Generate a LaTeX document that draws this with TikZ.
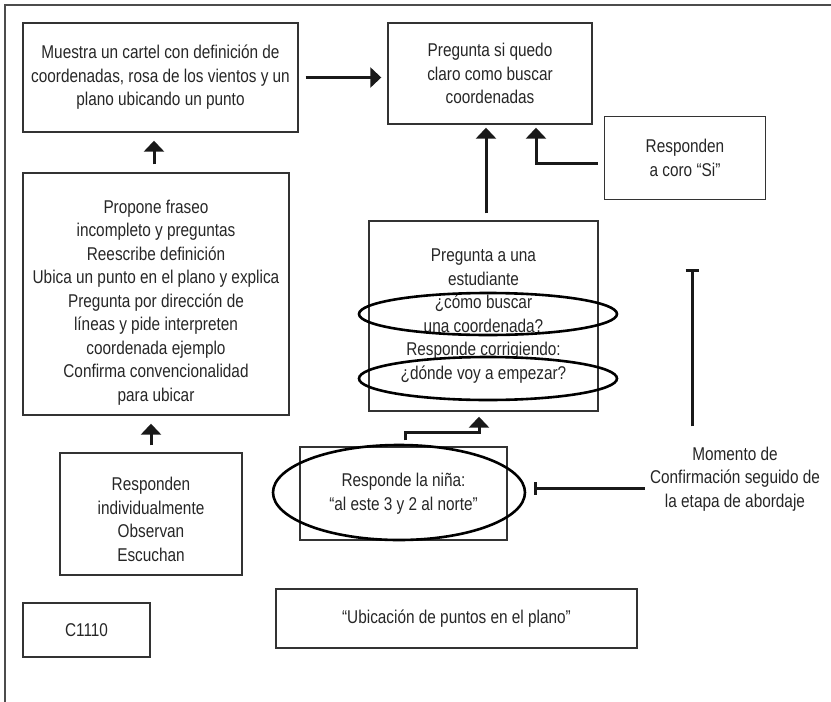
\documentclass[tikz,border=0pt]{standalone}
\usepackage{fontspec}
\setmainfont{Liberation Sans}[FakeStretch=0.83]
\usetikzlibrary{positioning,arrows.meta,shapes.geometric,calc}

\begin{document}
\begin{tikzpicture}[
    x=1pt, y=-1pt,
    font=\fontsize{18.5}{23.5}\selectfont, text=black!85,
    box/.style={draw=black!80, line width=1.4pt, align=center, inner sep=0pt},
    oval/.style={draw=black, ellipse, line width=2.6pt, inner sep=0pt},
    flow/.style={draw=black!90, line width=3pt, -{Triangle[width=20pt,length=11pt]}},
    tbar/.style={draw=black!90, line width=3pt, -{Bar[width=13pt]}}]
  \useasboundingbox (0,0) rectangle (831,702);
  \draw[black!70, line width=1.5pt] (5,702) -- (5,5) -- (831,5);
  % cajas
  \node[box, minimum width=275pt, minimum height=109pt] (cartel) at (160.5,77.5)
    {Muestra un cartel con definición de\\coordenadas, rosa de los vientos y un\\plano ubicando un punto};
  \node[box, minimum width=204pt, minimum height=101pt] (quedo) at (490,73.5)
    {Pregunta si quedo\\claro como buscar\\coordenadas};
  \node[box, minimum width=161pt, minimum height=83pt] (coro) at (685,158)
    {Responden\\a coro “Si”};
  \node[box, minimum width=229pt, minimum height=190pt] (estud) at (483.5,316)
    {Pregunta a una\\estudiante\\¿cómo buscar\\una coordenada?\\Responde corrigiendo:\\¿dónde voy a empezar?};
  \node[box, minimum width=207pt, minimum height=93pt] (nina) at (403.5,493.5)
    {Responde la niña:\\“al este 3 y 2 al norte”};
  \node[box, minimum width=266pt, minimum height=242pt] (propone) at (156,294)
    {\rule{0pt}{30pt}Propone fraseo\\incompleto y preguntas\\Reescribe definición\\Ubica un punto en el plano y explica\\Pregunta por dirección de\\líneas y pide interpreten\\coordenada ejemplo\\Confirma convencionalidad\\para ubicar};
  \node[box, minimum width=182pt, minimum height=122pt] (indiv) at (151,514)
    {\rule{0pt}{24pt}Responden\\individualmente\\Observan\\Escuchan};
  \node[box, minimum width=127pt, minimum height=54pt] (codigo) at (86.5,630) {C1110};
  \node[box, minimum width=361pt, minimum height=59pt] (titulo) at (456.5,618.5)
    {“Ubicación de puntos en el plano”};
  % ovalos
  \node[oval, minimum width=258pt, minimum height=42pt] (ovbuscar) at (488,314) {};
  \node[oval, minimum width=258pt, minimum height=43pt] (ovempezar) at (488,378.5) {};
  \node[oval, minimum width=252pt, minimum height=95pt] (ovnina) at (399,492.5) {};
  \node[align=center] (momento) at (735,479)
    {Momento de\\Confirmación seguido de\\la etapa de abordaje};
  \coordinate (bartop) at (692,269);
  % flechas
  \draw[flow, shorten <=7pt, shorten >=6pt] (cartel.east) -- (cartel.east -| quedo.west);
  \draw[flow, shorten <=8pt, shorten >=8pt] ([xshift=-2pt]propone.north) -- ([xshift=-2pt]propone.north |- cartel.south);
  \draw[flow, shorten <=7pt, shorten >=8pt] (indiv.north) -- (indiv.north |- propone.south);
  \draw[flow, shorten <=7pt, shorten >=3pt] ([xshift=2.5pt]estud.north) -- ([xshift=2.5pt]estud.north |- quedo.south);
  \draw[flow, shorten >=3pt] ([shift={(-6,5)}]coro.west) -| ([xshift=46pt]quedo.south);
  \draw[flow, shorten >=5pt] ([shift={(2,-6)}]nina.north) -- ++(0,-8) -| ([xshift=-4.5pt]estud.south);
  \draw[tbar] ([yshift=17pt]momento.north -| bartop) -- (bartop);
  \draw[tbar] ([shift={(-2,9)}]momento.west) -- ([shift={(8,-4.5)}]ovnina.east);
\end{tikzpicture}
\end{document}
